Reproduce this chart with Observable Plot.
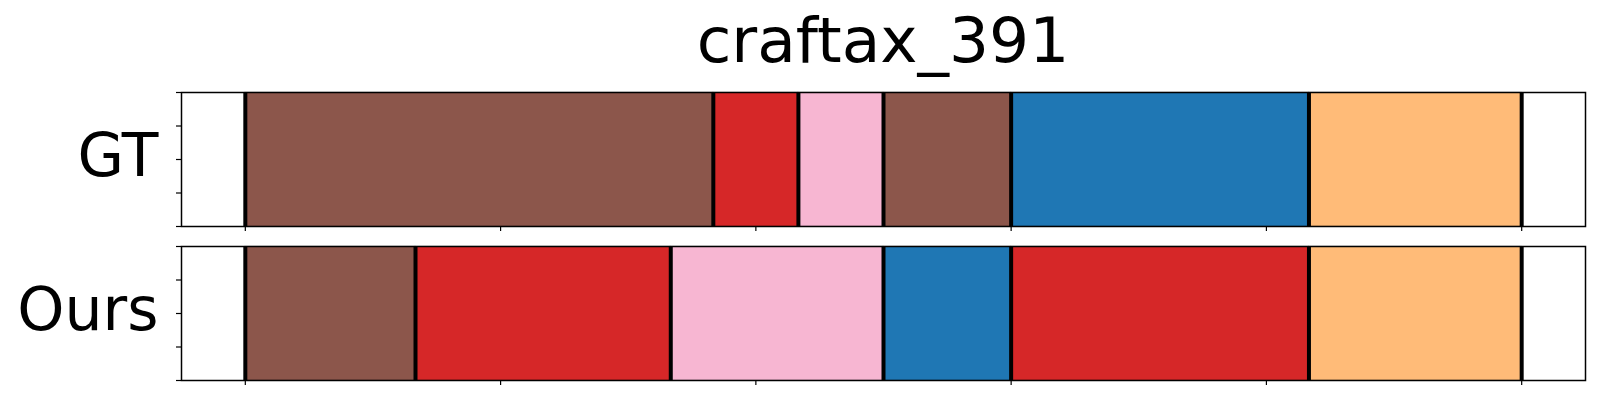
<!DOCTYPE html>
<html>
<head>
<meta charset="utf-8">
<script src="https://cdn.jsdelivr.net/npm/d3@7"></script>
<script src="https://cdn.jsdelivr.net/npm/@observablehq/plot@0.6"></script>
<style>
  html, body { margin: 0; padding: 0; background: #fff; }
  #wrap { position: relative; width: 1600px; height: 400px; }
  #title { position: absolute; left: 181px; width: 1404px; top: 10px; text-align: center;
           font-family: "DejaVu Sans", sans-serif; font-size: 63px; line-height: 62px; color: #000; }
</style>
</head>
<body>
<div id="wrap"><div id="title">craftax_391</div></div>
<script>
// Title
const titleText = "craftax_391";
// Rows (facets)
const rows = ["GT", "Ours"];
// Segment boundaries (frame index) and segment classes per row
const gtBounds = [0, 55, 65, 75, 90, 125, 150];
const gtClasses = ["k5", "k3", "k6", "k5", "k0", "k1"];
const oursBounds = [0, 20, 50, 75, 90, 125, 150];
const oursClasses = ["k5", "k3", "k6", "k0", "k3", "k1"];
// Color categories and colors
const classNames = ["k5", "k3", "k6", "k0", "k1"];
const classColors = ["#8c564b", "#d62728", "#f7b6d2", "#1f77b4", "#ffbb78"];
// X tick values
const xTicks = [0, 30, 60, 90, 120, 150];
const yTicks = [0, 0.25, 0.5, 0.75, 1];

document.getElementById("title").textContent = titleText;

const segments = [];
const bounds = [];
[[rows[0], gtBounds, gtClasses], [rows[1], oursBounds, oursClasses]].forEach(([row, b, c]) => {
  c.forEach((cls, i) => segments.push({row, x1: b[i], x2: b[i + 1], cls}));
  b.forEach(v => bounds.push({row, x: v}));
});

const xMin = gtBounds[0], xMax = gtBounds[gtBounds.length - 1];
const pad = (xMax - xMin) * 0.05;

const chart = Plot.plot({
  width: 1600,
  height: 400,
  marginTop: 91,
  marginBottom: 20,
  marginLeft: 181,
  marginRight: 15,
  style: {fontFamily: "DejaVu Sans, sans-serif", background: "#fff", color: "#000"},
  x: {domain: [xMin - pad, xMax + pad]},
  y: {domain: [0, 1]},
  fy: {domain: rows, paddingInner: 0.13, paddingOuter: 0},
  color: {domain: classNames, range: classColors},
  marks: [
    Plot.rectX(segments, {x1: "x1", x2: "x2", fy: "row", fill: "cls", stroke: "#000", strokeOpacity: 0.15, strokeWidth: 1}),
    Plot.ruleX(bounds, {x: "x", fy: "row", stroke: "#000", strokeWidth: 4}),
    Plot.frame({stroke: "#000", strokeWidth: 1.5}),
    Plot.axisX({ticks: xTicks, tickSize: 5, tickFormat: () => "", label: null, facetAnchor: null, strokeWidth: 1.2}),
    Plot.axisY({ticks: yTicks, tickSize: 5, tickFormat: () => "", label: null, strokeWidth: 1.2}),
    Plot.axisFy({anchor: "left", tickSize: 0, tickPadding: 23, fontSize: 60, label: null, dy: -3})
  ]
});
document.getElementById("wrap").prepend(chart);
</script>
</body>
</html>
